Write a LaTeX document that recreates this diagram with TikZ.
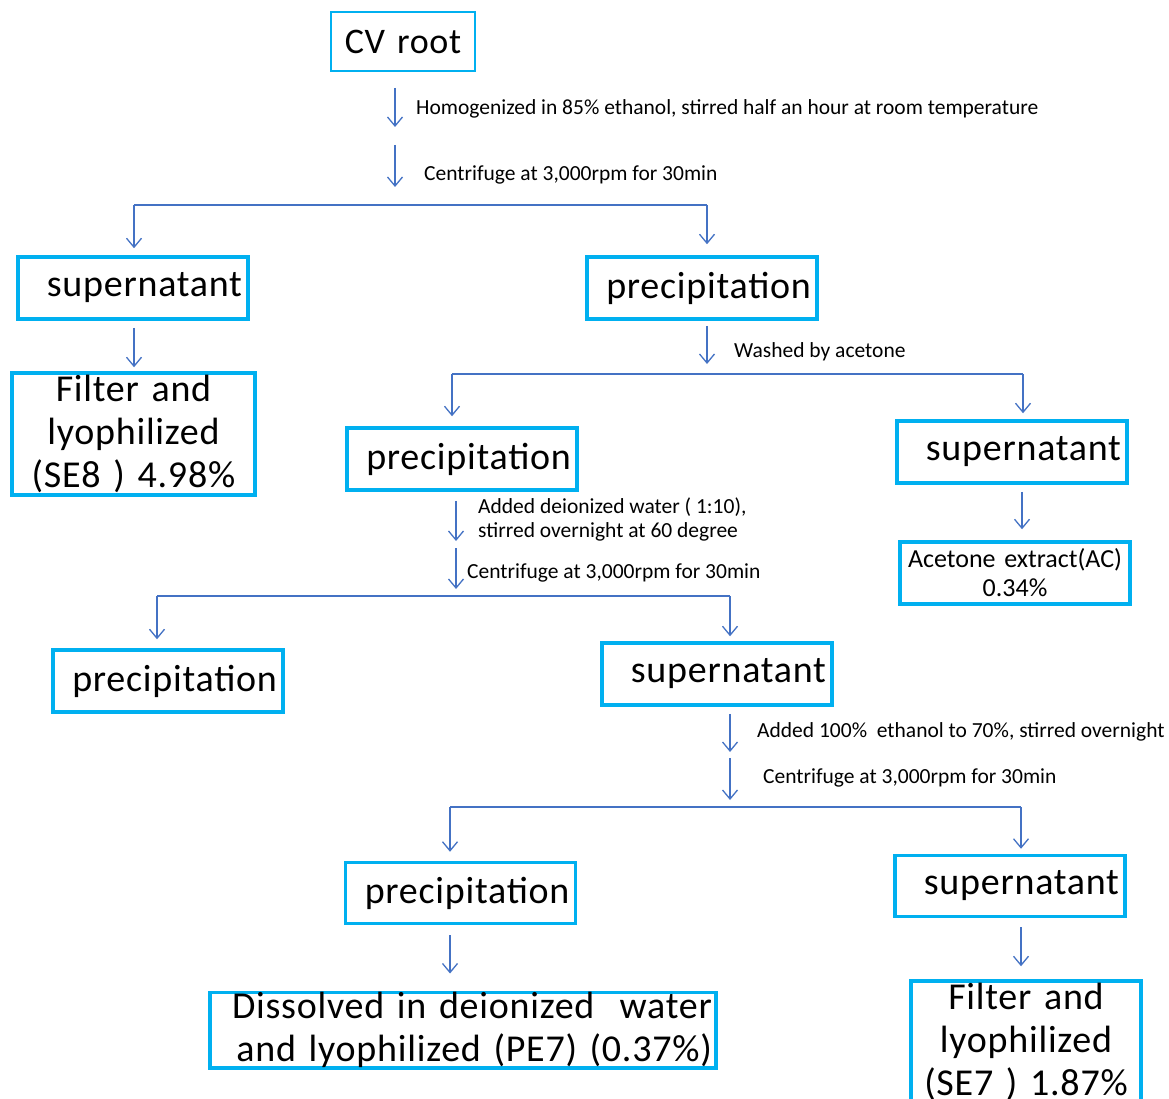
\documentclass[tikz,border=0pt]{standalone}
\usepackage{fontspec}
\setmainfont{Carlito}
\newfontfamily\boxfont{Carlito}[LetterSpace=2.0]
\newcommand\boxsize[2]{\boxfont\fontsize{#1}{#2}\selectfont\fontdimen2\font=0.13em\fontdimen3\font=0pt}
\usetikzlibrary{arrows.meta}
\definecolor{boxblue}{RGB}{0,176,240}
\definecolor{lineblue}{RGB}{68,114,196}
\begin{document}
\begin{tikzpicture}
[x=1pt,y=-1pt,
box/.style={draw=boxblue,line width=3.5pt,minimum width=230pt,minimum height=62pt,inner xsep=6pt,inner ysep=0pt,text width=218pt,align=right,font=\boxsize{38}{43}},
tallbox/.style={box,minimum height=122pt,align=center},
flow/.style={draw=lineblue,line width=1.3pt},
arr/.style={flow,-{Straight Barb[length=9pt,width=15pt]}},
note/.style={anchor=west,inner sep=0pt,align=left,font=\fontsize{21.5}{24}\selectfont}]
	\useasboundingbox[fill=white] (0,0) rectangle (1169,1099);

	\node[box,line width=2pt,minimum width=144pt,minimum height=59pt,text width=132pt,align=center,font=\boxsize{36}{40}] (root) at (403,41.5) {CV root};
	\node[box] (sup1) at (133,288) {supernatant};
	\node[box] (prec1) at (702,288) {precipitation};
	\node[tallbox,minimum width=243pt,text width=231pt] (filt1) at (133.5,434) {Filter and\\lyophilized\\(SE8 ) 4.98\%};
	\node[box] (prec2) at (462,459) {precipitation};
	\node[box] (sup2) at (1012,452) {supernatant};
	\node[box,inner xsep=0pt,text width=230pt,align=center,font=\fontsize{26}{29}\selectfont] (acet) at (1015,573) {Acetone extract(AC)\\0.34\%};
	\node[box] (prec3) at (168,681) {precipitation};
	\node[box] (sup3) at (717,674) {supernatant};
	\node[box,minimum height=61pt] (prec4) at (460.5,893) {precipitation};
	\node[box,minimum height=61pt] (sup4) at (1010,886) {supernatant};
	\node[box,minimum width=506pt,minimum height=73pt,inner xsep=4pt,text width=498pt] (diss) at (463,1030) {Dissolved in deionized\ \ water\\and lyophilized (PE7) (0.37\%)};
	\node[tallbox] (filt2) at (1026,1042) {Filter and\\lyophilized\\(SE7 ) 1.87\%};

	\node[note] (n1) at (416,109) {Homogenized in 85\% ethanol, stirred half an hour at room temperature};
	\node[note] (n2) at (424,175) {Centrifuge at 3,000rpm for 30min};
	\node[note] (n3) at (734,352) {Washed by acetone};
	\node[note] (n4) at (478,519) {Added deionized water ( 1:10),\\stirred overnight at 60 degree};
	\node[note] (n5) at (467,573) {Centrifuge at 3,000rpm for 30min};
	\node[note] (n6) at (757,732) {Added 100\%\ \ ethanol to 70\%, stirred overnight};
	\node[note] (n7) at (763,778) {Centrifuge at 3,000rpm for 30min};

	\coordinate (b1l) at (134,205);
	\coordinate (b1r) at (707,205);
	\coordinate (b2l) at (452,374);
	\coordinate (b2r) at (1023,374);
	\coordinate (b3l) at (157,596);
	\coordinate (b3r) at (730,596);
	\coordinate (b4l) at (450,807);
	\coordinate (b4r) at (1021,807);

	\draw[arr] ([xshift=-8pt,yshift=-16pt]root.south) -- (395,127);
	\draw[arr] (395,145) -- (395,187);
	\draw[flow] (b1l) -- (b1r);
	\draw[arr] (b1l) -- ([yshift=7pt]b1l |- sup1.north);
	\draw[arr] (b1r) -- ([yshift=11pt]b1r |- prec1.north);

	\draw[arr] ([xshift=1pt,yshift=-7pt]sup1.south) -- ([xshift=0.5pt,yshift=4pt]filt1.north);

	\draw[arr] ([xshift=5pt,yshift=-5pt]prec1.south) -- (707,364);
	\draw[flow] (b2l) -- (b2r);
	\draw[arr] (b2l) -- ([yshift=10pt]b2l |- prec2.north);
	\draw[arr] (b2r) -- ([yshift=6pt]b2r |- sup2.north);

	\draw[arr] ([xshift=10pt,yshift=-7pt]sup2.south) -- ([xshift=7pt,yshift=11pt]acet.north);

	\draw[arr] ([xshift=-6pt,yshift=-9pt]prec2.south) -- (456,541);
	\draw[arr] (456,548) -- (456,589);
	\draw[flow] (b3l) -- (b3r);
	\draw[arr] (b3l) -- ([yshift=9pt]b3l |- prec3.north);
	\draw[arr] (b3r) -- ([yshift=5pt]b3r |- sup3.north);

	\draw[arr] ([xshift=13pt,yshift=-7pt]sup3.south) -- (730,752);
	\draw[arr] (730,758) -- (730,800);
	\draw[flow] (b4l) -- (b4r);
	\draw[arr] (b4l) -- ([yshift=9pt]b4l |- prec4.north);
	\draw[arr] (b4r) -- ([yshift=5pt]b4r |- sup4.north);

	\draw[arr] ([xshift=-10.5pt,yshift=-10pt]prec4.south) -- ([xshift=-13pt,yshift=17pt]diss.north);
	\draw[arr] ([xshift=11pt,yshift=-9pt]sup4.south) -- ([xshift=-5pt,yshift=13pt]filt2.north);
\end{tikzpicture}
\end{document}
